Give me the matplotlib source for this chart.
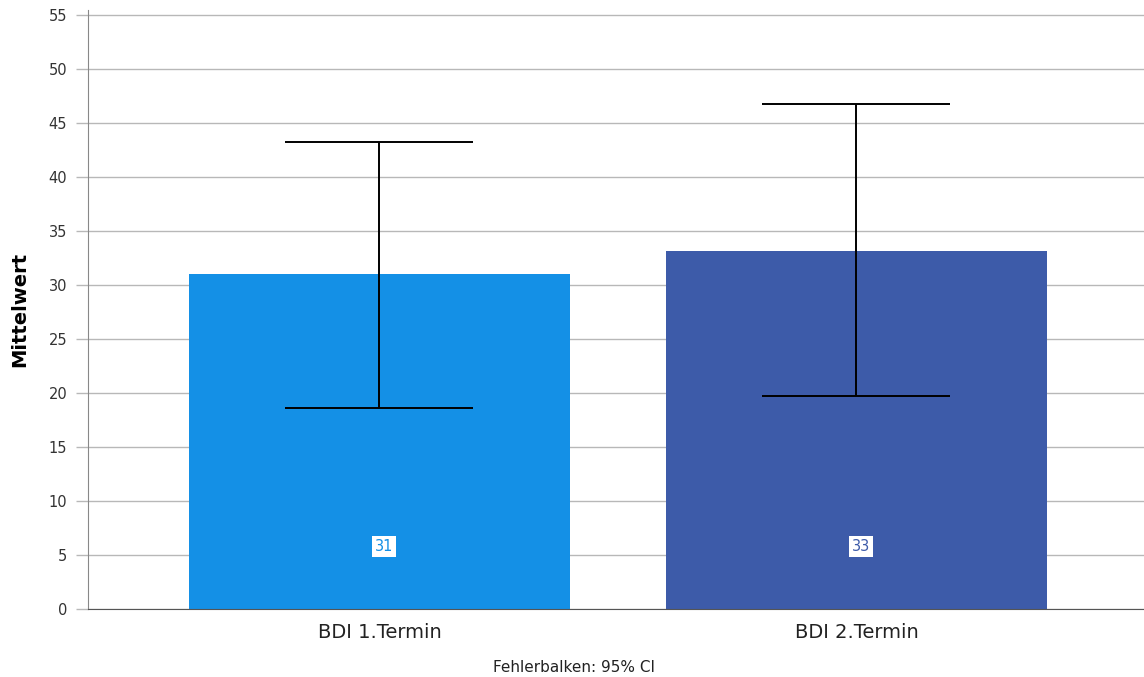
import matplotlib.pyplot as plt

# data
categories = ['BDI 1.Termin', 'BDI 2.Termin']
means = [31.0, 33.2]
ci_low = [18.65, 19.7]
ci_high = [43.3, 46.8]
labels = ['31', '33']
colors = ['#1490E6', '#3D5BA9']

plt.rcParams['font.family'] = ['DejaVu Sans']

fig = plt.figure(figsize=(11.44, 6.77), dpi=100)
ax = fig.add_axes([88 / 1144, 1 - 609 / 677, 1 - 88 / 1144, (609 - 10) / 677])

x = list(range(len(categories)))
ax.bar(x, means, width=0.8, color=colors, zorder=2)

err_low = [m - lo for m, lo in zip(means, ci_low)]
err_high = [hi - m for m, hi in zip(means, ci_high)]
ax.errorbar(x, means, yerr=[err_low, err_high], fmt='none', ecolor='black',
            elinewidth=1.4, capsize=68, capthick=1.4, zorder=3)

for xi, lab, c in zip(x, labels, colors):
    ax.text(xi + 0.01, 5.8, lab, ha='center', va='center', fontsize=10.5, color=c,
            bbox=dict(boxstyle='square,pad=0.2', facecolor='white', edgecolor='none'),
            zorder=4)

ax.set_xlim(-0.611, 1.603)
ax.set_ylim(0, 55.5)
ax.set_yticks(range(0, 56, 5))
ax.yaxis.grid(True, color='#b8b8b8', linewidth=1.0, zorder=0)
ax.set_axisbelow(True)

ax.set_xticks(x)
ax.set_xticklabels(categories, fontsize=14, color='#222222')
ax.tick_params(axis='x', length=0, pad=10)
ax.tick_params(axis='y', length=9, width=1, color='#b8b8b8', labelsize=10.5,
               labelcolor='#333333', pad=6)

for s in ['top', 'right']:
    ax.spines[s].set_visible(False)
ax.spines['left'].set_color('#888888')
ax.spines['bottom'].set_color('#555555')

ax.set_ylabel('Mittelwert', fontsize=14, fontweight='bold', labelpad=14)

fig.text(574 / 1144, 1 - 667 / 677, 'Fehlerbalken: 95% CI', ha='center', va='center',
         fontsize=11, color='#222222')

fig.savefig('out.png', dpi=100)
